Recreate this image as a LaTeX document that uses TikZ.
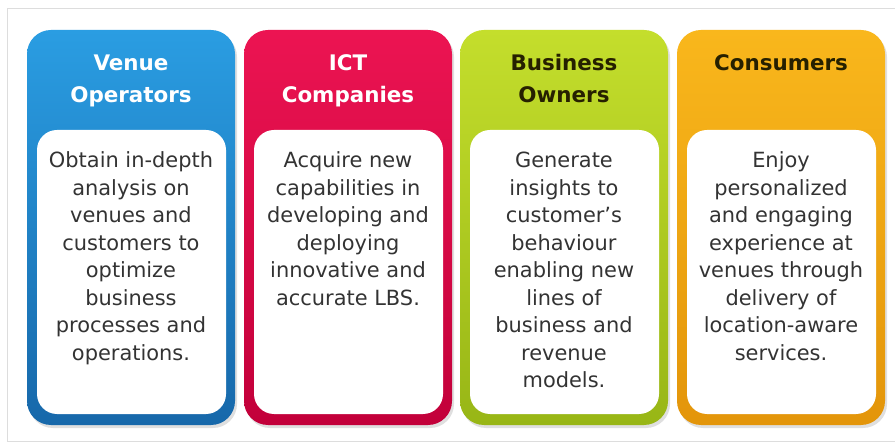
\documentclass[tikz,border=0pt]{standalone}
\usepackage{fontspec}
\setmainfont{DejaVu Sans}
\usetikzlibrary{shadows}
\definecolor{bluetop}{HTML}{2A9DE2}
\definecolor{bluebot}{HTML}{1768AA}
\definecolor{redtop}{HTML}{EC1452}
\definecolor{redbot}{HTML}{C2003A}
\definecolor{greentop}{HTML}{C4DE2C}
\definecolor{greenbot}{HTML}{98B616}
\definecolor{orangetop}{HTML}{F9B71C}
\definecolor{orangebot}{HTML}{E3950A}
\definecolor{bodytext}{HTML}{333333}
\definecolor{darkhead}{HTML}{262000}
\definecolor{frame}{HTML}{DDDDDD}
\tikzset{
  x=1bp, y=-1bp,
  panel/.style={rounded corners=24bp, drop shadow={opacity=0.25, shadow xshift=2bp, shadow yshift=-3bp}},
  inner/.style={fill=white, rounded corners=20bp},
  head/.style={anchor=north, align=center, inner sep=0pt, font=\fontsize{21.5}{32}\selectfont\bfseries},
  bodytxt/.style={anchor=north, align=center, inner sep=0pt, text=bodytext, font=\fontsize{21}{27.6}\selectfont},
}
\begin{document}
\begin{tikzpicture}
\useasboundingbox (0,0) rectangle (895,444);
\fill[white] (0,0) rectangle (895,444);
\draw[frame, line width=1bp] (896,9) -- (7,9) -- (7,441) -- (896,441);

% panels
\path[panel, top color=bluetop, bottom color=bluebot] (27,30) rectangle (235,425);
\path[panel, top color=redtop, bottom color=redbot] (244,30) rectangle (452,425);
\path[panel, top color=greentop, bottom color=greenbot] (460,30) rectangle (668,425);
\path[panel, top color=orangetop, bottom color=orangebot] (677,30) rectangle (885,425);

% inner boxes
\path[inner] (37,130) rectangle (226,414);
\path[inner] (254,130) rectangle (443,414);
\path[inner] (470,130) rectangle (659,414);
\path[inner] (687,130) rectangle (876,414);

% headings
\node[head, text=white] (h1) at (131,48) {\strut Venue\\Operators};
\node[head, text=white] (h2) at (348,48) {\strut ICT\\Companies};
\node[head, text=darkhead] (h3) at (564,48) {\strut Business\\Owners};
\node[head, text=darkhead] (h4) at (781,48) {\strut Consumers};

% bodies
\node[bodytxt] (b1) at (131,148.5) {\strut Obtain in-depth\\analysis on\\venues and\\customers to\\optimize\\business\\processes and\\operations.};
\node[bodytxt] (b2) at (348,148.5) {\strut Acquire new\\capabilities in\\developing and\\deploying\\innovative and\\accurate LBS.};
\node[bodytxt] (b3) at (564,148.5) {\strut Generate\\insights to\\customer's\\behaviour\\enabling new\\lines of\\business and\\revenue\\models.};
\node[bodytxt] (b4) at (781,148.5) {\strut Enjoy\\personalized\\and engaging\\experience at\\venues through\\delivery of\\location-aware\\services.};
\end{tikzpicture}
\end{document}
